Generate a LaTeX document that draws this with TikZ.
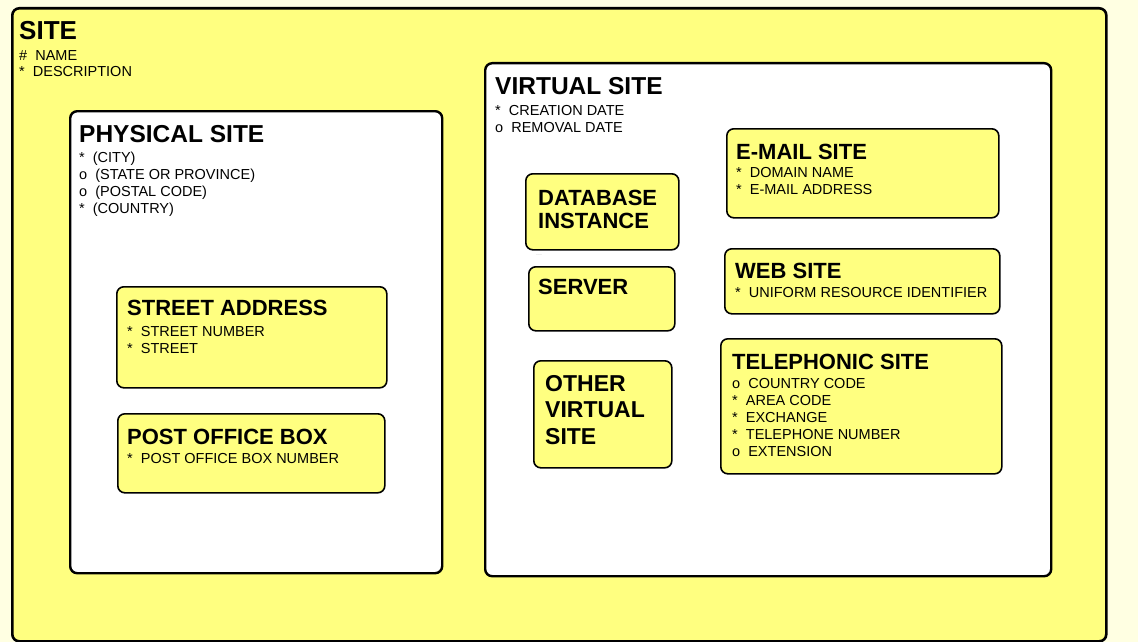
\documentclass[tikz,border=0pt]{standalone}
\usepackage{fontspec}
\setmainfont{Liberation Sans}[BoldFont={Liberation Sans Bold}]
\definecolor{sitefill}{HTML}{FFFF80}
\definecolor{paper}{HTML}{FFFFE2}
\begin{document}
\begin{tikzpicture}[x=1pt,y=-1pt,
  box/.style={draw,rounded corners=7pt,line width=1.6pt,anchor=north west,inner sep=0pt},
  ent/.style={box,fill=sitefill},
  sub/.style={box,fill=white,line width=2.4pt},
  ttl/.style={anchor=base west,inner sep=0pt,font=\bfseries\fontsize{22}{26}\selectfont},
  att/.style={anchor=base west,inner sep=0pt,font=\fontsize{14.5}{17}\selectfont}]
  \path[fill=paper,use as bounding box] (0,0) rectangle (1138,642);
  % site
  \node[ent,line width=2.6pt,minimum width=1094pt,minimum height=633pt] (site) at (11,7) {};
  \node[ttl,font=\bfseries\fontsize{26}{30}\selectfont] (site-t) at ([shift={(8,33)}]site.north west) {SITE};
  \foreach \m/\t [count=\i from 0] in {\#/NAME,*/DESCRIPTION}
    \node[att] (site-a\i) at ([shift={(0,20+17*\i)}]site-t.base west) {\m\ \ \t};
  % physical site
  \node[sub,minimum width=372pt,minimum height=462pt] (phys) at (69,110) {};
  \node[ttl,font=\bfseries\fontsize{24.5}{28}\selectfont] (phys-t) at ([shift={(10,32)}]phys.north west) {PHYSICAL SITE};
  \foreach \m/\t [count=\i from 0] in {*/(CITY),o/(STATE OR PROVINCE),o/(POSTAL CODE),*/(COUNTRY)}
    \node[att] (phys-a\i) at ([shift={(0,20+17*\i)}]phys-t.base west) {\m\ \ \t};
  \node[ent,minimum width=270pt,minimum height=101pt] (street) at (116,286) {};
  \node[ttl] (street-t) at ([shift={(11,29)}]street.north west) {STREET ADDRESS};
  \foreach \m/\t [count=\i from 0] in {*/STREET NUMBER,*/STREET}
    \node[att] (street-a\i) at ([shift={(0,21+17*\i)}]street-t.base west) {\m\ \ \t};
  \node[ent,minimum width=267pt,minimum height=79pt] (pobox) at (117,413) {};
  \node[ttl] (pobox-t) at ([shift={(10,31)}]pobox.north west) {POST OFFICE BOX};
  \node[att] (pobox-a0) at ([shift={(0,19)}]pobox-t.base west) {*\ \ POST OFFICE BOX NUMBER};
  % virtual site
  \node[sub,minimum width=566pt,minimum height=513pt] (virt) at (484,62) {};
  \node[ttl,font=\bfseries\fontsize{24.5}{28}\selectfont] (virt-t) at ([shift={(11,32)}]virt.north west) {VIRTUAL SITE};
  \foreach \m/\t [count=\i from 0] in {*/CREATION DATE,o/REMOVAL DATE}
    \node[att] (virt-a\i) at ([shift={(0,21+17*\i)}]virt-t.base west) {\m\ \ \t};
  \node[ent,minimum width=153pt,minimum height=76pt] (dbi) at (525,173) {};
  \node[ttl] (dbi-t) at ([shift={(13,32)}]dbi.north west) {DATABASE};
  \node[ttl] (dbi-t2) at ([shift={(0,23)}]dbi-t.base west) {INSTANCE};
  \node[anchor=base west,inner sep=0pt,text=gray!45,font=\fontsize{7}{7}\selectfont] (dbi-d) at ([shift={(11,5)}]dbi.south west) {...};
  \node[ent,minimum width=146pt,minimum height=64pt] (srv) at (528,266) {};
  \node[ttl] (srv-t) at ([shift={(10,28)}]srv.north west) {SERVER};
  \node[ent,minimum width=138pt,minimum height=107pt] (other) at (533,360) {};
  \foreach \t [count=\i from 0] in {OTHER,VIRTUAL,SITE}
    \node[ttl,font=\bfseries\fontsize{23}{26}\selectfont] (other-t\i) at ([shift={(12,31+26.5*\i)}]other.north west) {\t};
  \node[ent,minimum width=272pt,minimum height=89pt] (email) at (726,128) {};
  \node[ttl] (email-t) at ([shift={(10,31)}]email.north west) {E-MAIL SITE};
  \foreach \m/\t [count=\i from 0] in {*/DOMAIN NAME,*/E-MAIL ADDRESS}
    \node[att] (email-a\i) at ([shift={(0,18+17*\i)}]email-t.base west) {\m\ \ \t};
  \node[ent,minimum width=275pt,minimum height=65pt] (web) at (724,248) {};
  \node[ttl] (web-t) at ([shift={(11,30)}]web.north west) {WEB SITE};
  \node[att] (web-a0) at ([shift={(0,19)}]web-t.base west) {*\ \ UNIFORM RESOURCE IDENTIFIER};
  \node[ent,minimum width=281pt,minimum height=135pt] (tel) at (720,338) {};
  \node[ttl] (tel-t) at ([shift={(12,31)}]tel.north west) {TELEPHONIC SITE};
  \foreach \m/\t [count=\i from 0] in {o/COUNTRY CODE,*/AREA CODE,*/EXCHANGE,*/TELEPHONE NUMBER,o/EXTENSION}
    \node[att] (tel-a\i) at ([shift={(0,19+17*\i)}]tel-t.base west) {\m\ \ \t};
\end{tikzpicture}
\end{document}
